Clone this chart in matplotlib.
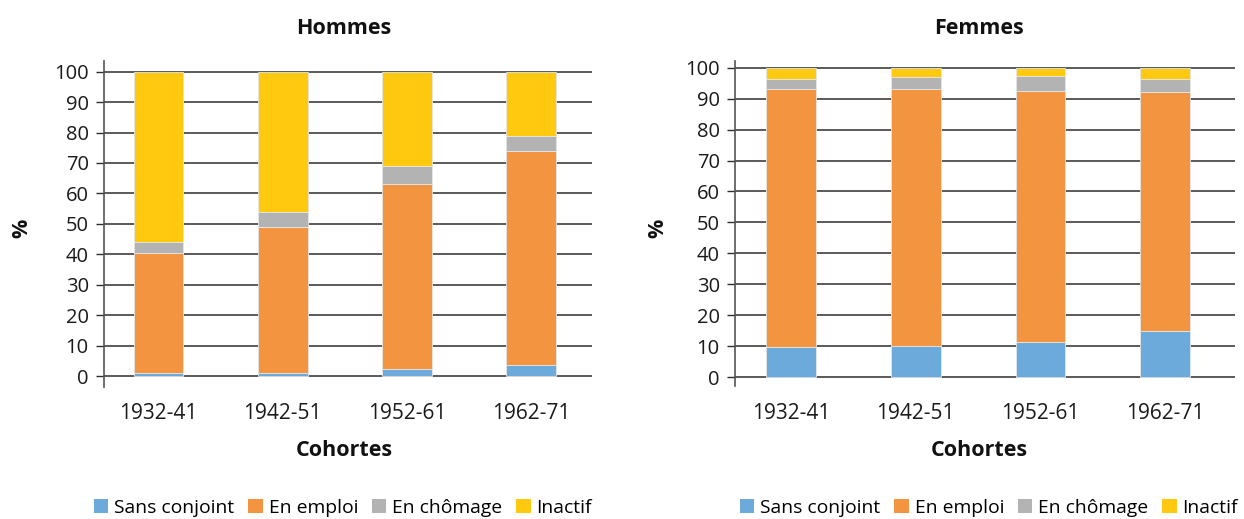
import matplotlib
matplotlib.use("Agg")
import matplotlib.pyplot as plt
from matplotlib.patches import Patch
import numpy as np

cohortes = ["1932-41", "1942-51", "1952-61", "1962-71"]
series = ["Sans conjoint", "En emploi", "En chômage", "Inactif"]
colors = ["#6CAADC", "#F39441", "#B3B3B3", "#FEC90F"]

hommes_sans = [1.1, 1.0, 2.4, 3.6]
hommes_emploi = [39.4, 48.1, 60.8, 70.3]
hommes_chomage = [3.6, 4.9, 5.9, 5.0]
hommes_inactif = [55.9, 46.0, 30.9, 21.1]

femmes_sans = [9.6, 10.0, 11.2, 15.0]
femmes_emploi = [83.6, 83.1, 81.3, 77.1]
femmes_chomage = [3.2, 4.0, 4.7, 4.3]
femmes_inactif = [3.6, 2.9, 2.8, 3.6]

yticks = list(range(0, 101, 10))

FONT = "Open Sans"
W, H = 1244, 519
fig = plt.figure(figsize=(W / 100, H / 100), dpi=100)

def px_axes(x0, x1, ytop, ybot):
    return fig.add_axes([x0 / W, (H - ybot) / H, (x1 - x0) / W, (ybot - ytop) / H])

panels = [
    dict(title="Hommes", data=[hommes_sans, hommes_emploi, hommes_chomage, hommes_inactif],
         box=(104, 592, 61, 386.7), ylim=(-3.5, 103.5), xlim=(-0.44, 3.49),
         title_x=344, ylab_x=22, leg_x=343),
    dict(title="Femmes", data=[femmes_sans, femmes_emploi, femmes_chomage, femmes_inactif],
         box=(735, 1235, 61, 386), ylim=(-2.9, 102.2), xlim=(-0.45, 3.56),
         title_x=979, ylab_x=658, leg_x=989),
]

for p in panels:
    ax = px_axes(*p["box"])
    x = np.arange(len(cohortes))
    bottom = np.zeros(len(cohortes))
    for vals, c in zip(p["data"], colors):
        ax.bar(x, vals, width=0.4, bottom=bottom, color=c, edgecolor="#e6e6e6",
               linewidth=0.6, zorder=3)
        bottom += np.array(vals)
    ax.set_xlim(*p["xlim"])
    ax.set_ylim(*p["ylim"])
    ax.set_yticks(yticks)
    ax.set_yticklabels([str(v) for v in yticks], fontsize=14.5, family=FONT, color="#1a1a1a")
    ax.set_xticks(x)
    ax.set_xticklabels(cohortes, fontsize=15, family=FONT, color="#1a1a1a")
    ax.tick_params(axis="x", length=0, pad=12)
    ax.tick_params(axis="y", length=6, width=1, color="#2e2e2e", pad=5)
    ax.yaxis.grid(True, color="#2e2e2e", linewidth=1.1, zorder=0)
    ax.set_axisbelow(True)
    for s in ["top", "right", "bottom"]:
        ax.spines[s].set_visible(False)
    ax.spines["left"].set_color("#555555")
    ax.spines["left"].set_linewidth(1.2)

    fig.text(p["title_x"] / W, 1 - 28 / H, p["title"], ha="center", va="center",
             fontsize=15.5, fontweight="bold", family=FONT, color="#111111")
    fig.text(p["title_x"] / W, 1 - 450 / H, "Cohortes", ha="center", va="center",
             fontsize=15.5, fontweight="bold", family=FONT, color="#111111")
    fig.text(p["ylab_x"] / W, 1 - 228 / H, "%", ha="center", va="center", rotation=90,
             fontsize=15.5, fontweight="bold", family=FONT, color="#111111")

    handles = [Patch(facecolor=c, edgecolor="none") for c in colors]
    fig.legend(handles, series, loc="center", bbox_to_anchor=(p["leg_x"] / W, 1 - 508 / H),
               ncol=4, frameon=False, prop={"family": FONT, "size": 13.9},
               handlelength=0.75, handleheight=0.75, handletextpad=0.3, columnspacing=0.72,
               borderpad=0, borderaxespad=0)

fig.savefig("out.png", dpi=100)
